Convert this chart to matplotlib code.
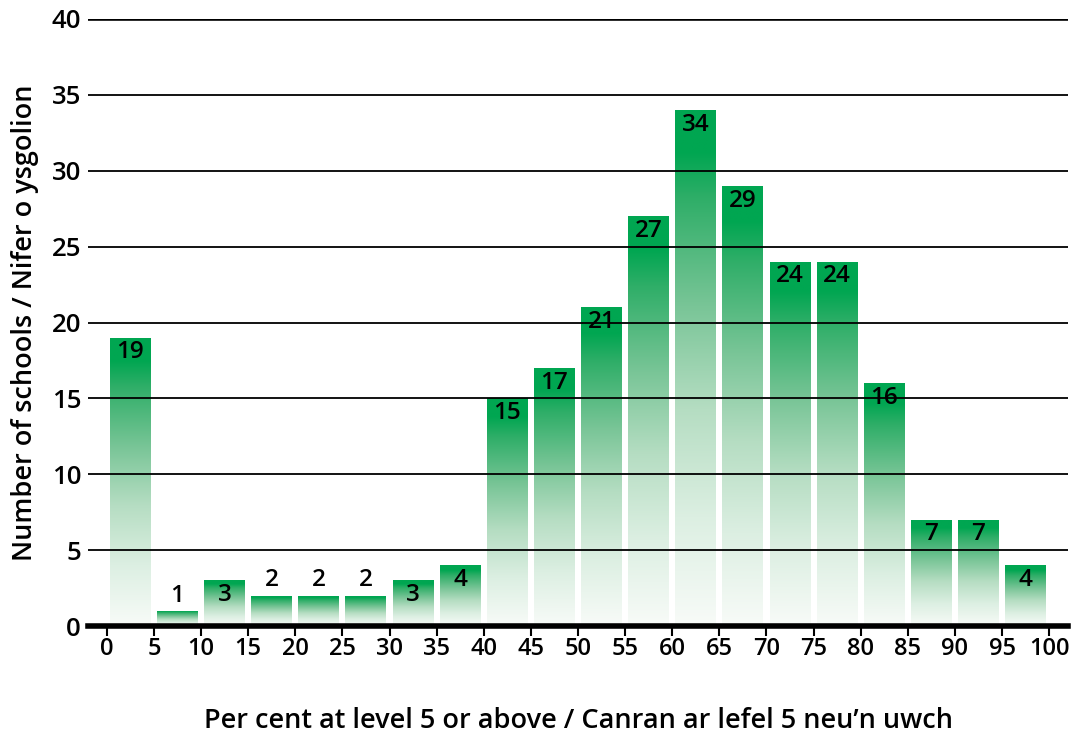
import numpy as np
import matplotlib.pyplot as plt
from matplotlib.colors import LinearSegmentedColormap

# histogram bins (lower edge of each 5% band) and school counts
bin_starts = [0, 5, 10, 15, 20, 25, 30, 35, 40, 45, 50, 55, 60, 65, 70, 75, 80, 85, 90, 95]
counts = [19, 1, 3, 2, 2, 2, 3, 4, 15, 17, 21, 27, 34, 29, 24, 24, 16, 7, 7, 4]
x_ticks = list(range(0, 105, 5))
y_ticks = list(range(0, 45, 5))

x_label = "Per cent at level 5 or above / Canran ar lefel 5 neu\u2019n uwch"
y_label = "Number of schools / Nifer o ysgolion"

GREEN = "#00a651"

plt.rcParams['font.family'] = ["Open Sans", "DejaVu Sans"]
plt.rcParams['font.weight'] = 600
plt.rcParams['axes.labelweight'] = 600

fig = plt.figure(figsize=(10.85, 7.38), dpi=100)
ax = fig.add_axes([88 / 1085, 1 - 626 / 738, 980 / 1085, 607 / 738])

# near-white at the bottom of each bar, solid green for the top tenth
cmap = LinearSegmentedColormap.from_list(
    "fade", [(0.0, "#f8fbf8"), (0.21, "#dcefe2"), (0.42, "#b5ddc2"),
             (0.62, "#79c597"), (0.83, "#2fae68"), (0.92, GREEN), (1.0, GREEN)])
grad = np.linspace(0, 1, 256).reshape(-1, 1)

centers = [b + 2.5 for b in bin_starts]
bars = ax.bar(centers, counts, width=4.35, color="none", edgecolor="none", zorder=1)
for patch in bars:
    x0, y0 = patch.get_x(), patch.get_y()
    w, h = patch.get_width(), patch.get_height()
    im = ax.imshow(grad, cmap=cmap, origin="lower", aspect="auto",
                   extent=(x0, x0 + w, y0, y0 + h), zorder=1, interpolation="bilinear")
    im.set_clip_path(patch)

# horizontal rules over the bars
for y in y_ticks[1:]:
    lw = 2.6 if y == 40 else 1.3
    ax.axhline(y, color="black", lw=lw, zorder=2)

for c, v in zip(centers, counts):
    if v <= 2:
        ax.annotate(str(v), (c, v), xytext=(0, 11), textcoords="offset points",
                    ha="center", va="center", fontsize=17.5, zorder=3)
    else:
        ax.annotate(str(v), (c, v), xytext=(0, -10.5), textcoords="offset points",
                    ha="center", va="center", fontsize=17.5, zorder=3)

ax.set_xlim(-2, 102)
ax.set_ylim(0, 40)
ax.set_xticks(x_ticks)
ax.set_yticks(y_ticks)
ax.tick_params(axis="x", length=7, width=1.5, labelsize=17, pad=1)
ax.tick_params(axis="y", length=0, labelsize=18.5, pad=5)

for side in ["top", "right", "left"]:
    ax.spines[side].set_visible(False)
ax.spines["bottom"].set_linewidth(4)
ax.spines["bottom"].set_zorder(4)

ax.set_xlabel(x_label, fontsize=19.5, labelpad=33)
ax.set_ylabel(y_label, fontsize=19.5, labelpad=9)

fig.savefig("out.png", dpi=100, facecolor="white")
